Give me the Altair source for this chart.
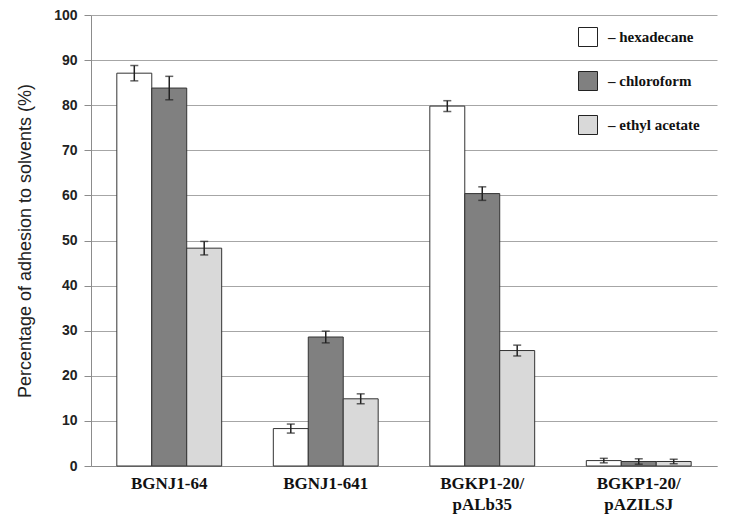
import altair as alt
import pandas as pd

strains = ["BGNJ1-64", "BGNJ1-641", "BGKP1-20/ pALb35", "BGKP1-20/ pAZILSJ"]
solvents = ["hexadecane", "chloroform", "ethyl acetate"]
hexadecane = [87.1, 8.3, 79.8, 1.2]
chloroform = [83.8, 28.6, 60.4, 1.0]
ethyl_acetate = [48.3, 14.9, 25.6, 1.0]
hex_err = [1.7, 1.0, 1.2, 0.5]
chl_err = [2.6, 1.3, 1.5, 0.6]
eth_err = [1.5, 1.1, 1.2, 0.5]
colors = ["#ffffff", "#808080", "#d9d9d9"]

rows = []
for vals, errs, s in [(hexadecane, hex_err, solvents[0]),
                      (chloroform, chl_err, solvents[1]),
                      (ethyl_acetate, eth_err, solvents[2])]:
    for st, v, e in zip(strains, vals, errs):
        rows.append({"strain": st, "solvent": s, "value": v, "lo": v - e, "hi": v + e})
df = pd.DataFrame(rows)

x = alt.X("strain:N", sort=strains, title=None,
          scale=alt.Scale(paddingInner=0.33, paddingOuter=0.165),
          axis=alt.Axis(labelAngle=0, ticks=False, domainColor="#8c8c8c",
                        labelFont="Liberation Serif", labelFontWeight="bold",
                        labelFontSize=17, labelColor="#111111", labelPadding=9,
                        labelExpr="split(datum.label, ' ')", labelLineHeight=21))
xo = alt.XOffset("solvent:N", sort=solvents, scale=alt.Scale(paddingInner=0, paddingOuter=0))

y = alt.Y("value:Q", title="Percentage of adhesion to solvents (%)",
          scale=alt.Scale(domain=[0, 100], nice=False),
          axis=alt.Axis(values=list(range(0, 101, 10)), gridColor="#a6a6a6",
                        domainColor="#8c8c8c", tickColor="#8c8c8c", tickSize=7,
                        labelFont="Liberation Sans", labelFontWeight="bold",
                        labelFontSize=14, labelColor="#222222", labelPadding=7,
                        titleFont="Liberation Sans", titleFontSize=18,
                        titleFontWeight="normal", titleColor="#222222", titlePadding=19))

bars = alt.Chart(df).mark_bar(stroke="#333333", strokeWidth=1).encode(
    x=x, xOffset=xo, y=y,
    fill=alt.Fill("solvent:N", sort=solvents,
                  scale=alt.Scale(domain=solvents, range=colors),
                  legend=alt.Legend(title=None, orient="none", legendX=487, legendY=12,
                                    symbolType="square", symbolSize=361,
                                    symbolStrokeColor="#222222", symbolStrokeWidth=1,
                                    labelFont="Liberation Serif", labelFontWeight="bold",
                                    labelFontSize=15, labelColor="#111111",
                                    labelExpr="'–  ' + datum.label",
                                    rowPadding=20, labelOffset=10)),
)

err = alt.Chart(df).mark_rule(color="#222222", strokeWidth=1.5).encode(
    x=x, xOffset=xo, y="lo:Q", y2="hi:Q")
cap_lo = alt.Chart(df).mark_tick(color="#222222", thickness=1.5, size=8).encode(
    x=x, xOffset=xo, y="lo:Q")
cap_hi = alt.Chart(df).mark_tick(color="#222222", thickness=1.5, size=8).encode(
    x=x, xOffset=xo, y="hi:Q")

chart = alt.layer(bars, err, cap_lo, cap_hi).properties(
    width=626, height=451,
    autosize=alt.AutoSizeParams(type="none"),
    padding={"left": 83, "top": 7, "right": 6, "bottom": 49},
).configure_view(stroke=None).configure_axis(grid=False).configure_axisY(grid=True)

chart.save("out.html", embed_options={"renderer": "svg", "actions": False})
